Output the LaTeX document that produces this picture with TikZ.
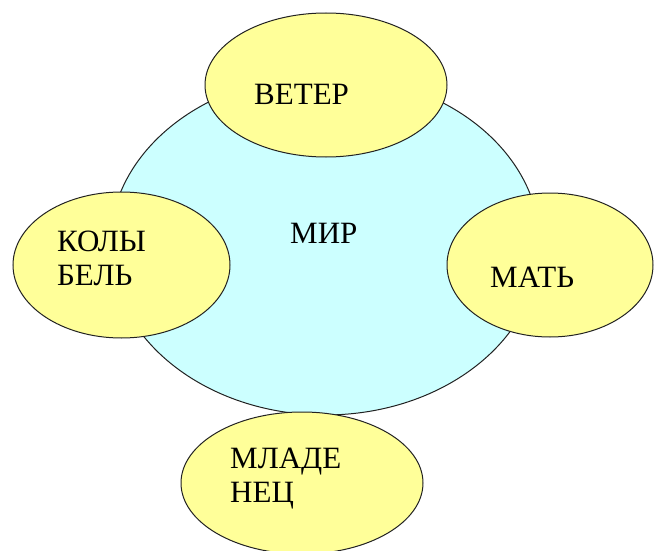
\documentclass[tikz,border=0pt]{standalone}
\usepackage{fontspec}
\setmainfont{Liberation Serif}
\usetikzlibrary{shapes.geometric}
\definecolor{worldfill}{HTML}{CCFFFF}
\definecolor{petalfill}{HTML}{FFFF99}
\definecolor{edgecol}{HTML}{222222}
\begin{document}
\begin{tikzpicture}[x=1pt,y=-1pt,
  world/.style={ellipse,draw=edgecol,line width=1pt,fill=worldfill,inner sep=0pt},
  petal/.style={ellipse,draw=edgecol,line width=1pt,fill=petalfill,inner sep=0pt},
  lbl/.style={anchor=base west,inner sep=0pt,font=\fontsize{31}{34}\selectfont},
  lbltwo/.style={anchor=north west,inner sep=0pt,align=left,font=\fontsize{31}{34}\selectfont}]
\useasboundingbox (0,0) rectangle (654,551);
\node[world, minimum width=430pt, minimum height=340pt] (mir) at (325,245) {};
\node[petal, minimum width=242pt, minimum height=144pt] (veter) at (326,85) {};
\node[petal, minimum width=217pt, minimum height=146pt] (kol) at (121.5,265) {};
\node[petal, minimum width=206pt, minimum height=144pt] (mat) at (550,265) {};
\node[petal, minimum width=242pt, minimum height=142pt] (mlad) at (302,483) {};
\node[lbl] (tveter) at (254,105) {ВЕТЕР};
\node[lbl] (tmir) at (290,243) {МИР};
\node[lbl] (tmat) at (490,287) {МАТЬ};
\node[lbltwo] (tkol) at (57,231) {КОЛЫ\\БЕЛЬ};
\node[lbltwo] (tmlad) at (230,448) {МЛАДЕ\\НЕЦ};
\end{tikzpicture}
\end{document}
